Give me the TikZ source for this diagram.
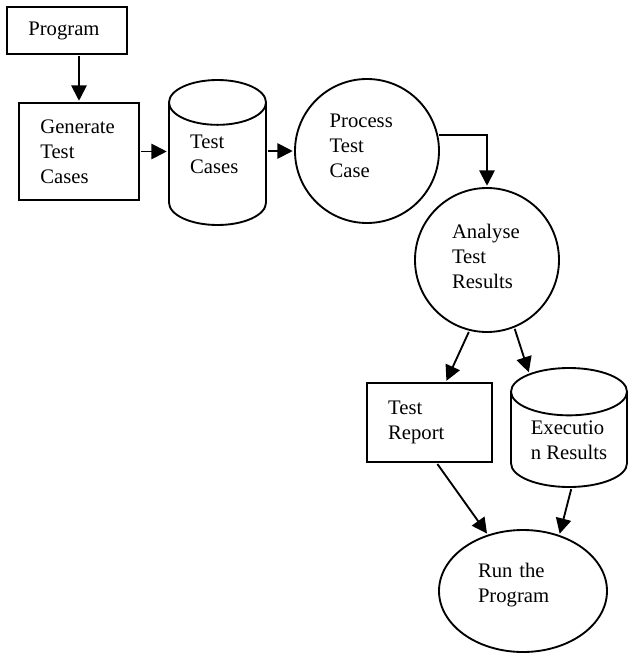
\documentclass[tikz,border=0pt]{standalone}
\usepackage{fontspec}
\setmainfont{Liberation Serif}
\usetikzlibrary{shapes.geometric,arrows.meta}

\begin{document}
\begin{tikzpicture}[
  x=0.75pt, y=-0.75pt,
  line width=1.4pt,
  every node/.style={font=\fontsize{15.5}{18.75}\selectfont, align=left, inner sep=0pt},
  box/.style={rectangle, draw, minimum width=90pt, minimum height=72.75pt, text width=58pt},
  proc/.style={circle, draw, minimum size=108pt},
  store/.style={cylinder, draw, shape border rotate=90, aspect=0.82, minimum width=72.75pt, minimum height=108.75pt, anchor=shape center},
  arrow/.style={-{Triangle[length=11.5pt,width=11.5pt]}, shorten >=1pt, shorten <=1pt}
]
\useasboundingbox (0,0) rectangle (628,653);

\node[box, minimum height=35.25pt] (prog) at (67,30.5) {Program};
\node[box] (gen) at (79,151.5) {Generate\\Test\\Cases};
\node[store, text width=41pt, text depth=34pt] (cases) at (217.5,152.5) {Test\\Cases};
\node[proc, text width=56pt, text depth=45pt] (exe) at (367,151) {Process\\Test\\Case};
\node[proc, text width=52.5pt, text depth=43pt] (ana) at (487,260) {Analyse\\Test\\Results};
\node[box, minimum width=93.75pt, minimum height=59.25pt, text width=62pt] (rep) at (429.5,422.5) {Test\\Report};
\node[store, aspect=0.62, minimum width=87pt, minimum height=89.25pt] (res) at (569,427.5) {Executio\\n Results};
\node[ellipse, draw, minimum width=126pt, minimum height=91.5pt, text width=67.5pt, text depth=31pt] (run) at (523,591) {Run the\\Program};

% main flow
\draw[arrow] (prog.south -| gen.north) -- (gen.north);
\draw[arrow] (gen.east) -- (gen.east -| cases.west);
\draw[arrow] (exe.west -| cases.east) -- (exe.west);
\draw[arrow] (exe.13) -| (ana.north);

% results
\draw[arrow] (ana.-104) -- (rep.68);
\draw[arrow] (ana.-68) -- (res.121);
\draw[arrow] (rep.-80) -- (run.122);
\draw[arrow] (res.-87) -- (run.57);

\end{tikzpicture}
\end{document}
